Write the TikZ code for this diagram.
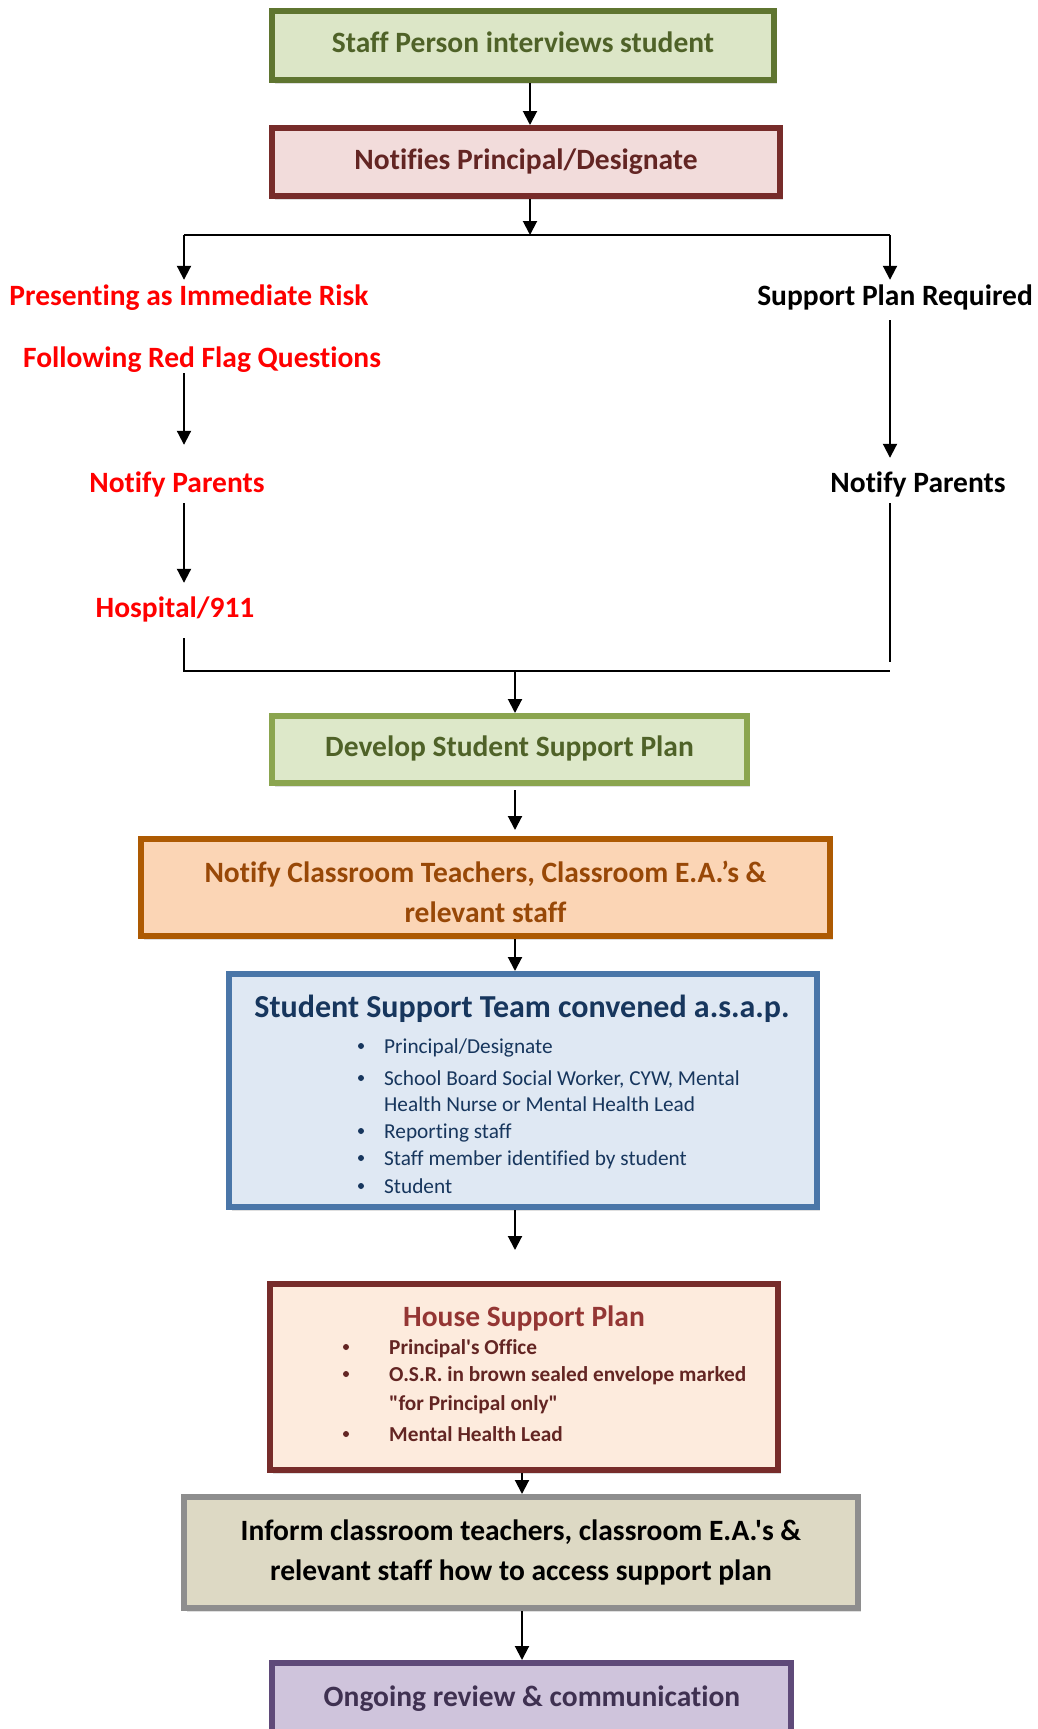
\documentclass[tikz,border=0pt]{standalone}
\usepackage{fontspec}
\setmainfont{Carlito}[Ligatures={TeXOff,NoCommon}]
\usetikzlibrary{arrows.meta,shadows,calc}
\definecolor{staffFill}{HTML}{DCE6C7}
\definecolor{staffLine}{HTML}{5F7530}
\definecolor{greenT}{HTML}{4F6228}
\definecolor{notifFill}{HTML}{F2DCDB}
\definecolor{wineLine}{HTML}{772C2A}
\definecolor{wineT}{HTML}{632523}
\definecolor{devFill}{HTML}{DDE8C9}
\definecolor{devLine}{HTML}{8BA54F}
\definecolor{ncFill}{HTML}{FBD5B5}
\definecolor{ncLine}{HTML}{AD5A02}
\definecolor{ncT}{HTML}{984807}
\definecolor{sstFill}{HTML}{DFE8F3}
\definecolor{sstLine}{HTML}{4A76A8}
\definecolor{sstT}{HTML}{17365D}
\definecolor{houseFill}{HTML}{FDEBDD}
\definecolor{houseT}{HTML}{943634}
\definecolor{infFill}{HTML}{DDD9C4}
\definecolor{infLine}{HTML}{8E8E8E}
\definecolor{ongFill}{HTML}{CFC4DC}
\definecolor{ongLine}{HTML}{5F4A79}
\definecolor{ongT}{HTML}{3F3151}
\definecolor{redT}{HTML}{FF0000}
\begin{document}
\begin{tikzpicture}[x=1pt,y=-1pt,
  box/.style={draw, line width=6pt, inner sep=0pt, align=center,
    font=\fontsize{29.5}{40}\selectfont\bfseries,
    drop shadow={shadow xshift=3pt, shadow yshift=-4pt, opacity=0.25}},
  lbl/.style={font=\fontsize{29.5}{35}\selectfont\bfseries, inner sep=0pt,
    text height=20pt, text depth=6pt},
  item/.style={font=\fontsize{21.3}{26}\selectfont, inner sep=0pt, anchor=base west},
  bitem/.style={font=\fontsize{21.3}{26}\selectfont\bfseries, inner sep=0pt, anchor=base west},
  ln/.style={line width=2pt},
  arr/.style={line width=2pt, -{Triangle[width=14pt,length=14pt]}}]
\useasboundingbox (0,0) rectangle (1037,1729);
\clip (0,0) rectangle (1037,1729);

% boxes
\node[box, fill=staffFill, draw=staffLine, text=greenT, minimum width=502pt, minimum height=69pt,
  text height=20pt, text depth=6pt] (staff) at (523,45.5) {Staff Person interviews student};
\node[box, fill=notifFill, draw=wineLine, text=wineT, minimum width=508pt, minimum height=68pt,
  text height=20pt, text depth=6pt] (notif) at (526,162) {Notifies Principal/Designate};
\node[box, fill=devFill, draw=devLine, text=greenT, minimum width=475pt, minimum height=67pt,
  text height=20pt, text depth=6pt] (develop) at (509.5,749.5) {Develop Student Support Plan};
\node[box, fill=ncFill, draw=ncLine, text=ncT, minimum width=689pt, minimum height=97pt]
  (nc) at (485.5,887.5) {\rule{0pt}{31pt}Notify Classroom Teachers, Classroom E.A.’s \&\\relevant staff};
\node[box, fill=sstFill, draw=sstLine, minimum width=588pt, minimum height=233pt]
  (sst) at (523,1090.5) {};
\node[box, fill=houseFill, draw=wineLine, minimum width=508pt, minimum height=186pt]
  (house) at (524,1377) {};
\node[box, fill=infFill, draw=infLine, text=black, minimum width=674pt, minimum height=111pt]
  (inform) at (521,1552.5) {Inform classroom teachers, classroom E.A.'s \&\\relevant staff how to access support plan};
\node[box, fill=ongFill, draw=ongLine, minimum width=519pt, minimum height=94pt]
  (ong) at (531.5,1710) {};
\node[lbl, text=ongT, anchor=base] (ongtxt) at (532,1706) {Ongoing review \& communication};

% SST contents
\node[font=\fontsize{32}{38}\selectfont\bfseries, text=sstT, inner sep=0pt, anchor=base] (ssttitle) at (522,1017) {Student Support Team convened a.s.a.p.};
\node[item, text=sstT] (s1) at (384,1053) {Principal/Designate};
\node[item, text=sstT] (s2) at (384,1085) {School Board Social Worker, CYW, Mental};
\node[item, text=sstT] (s2b) at (384,1111) {Health Nurse or Mental Health Lead};
\node[item, text=sstT] (s3) at (384,1138) {Reporting staff};
\node[item, text=sstT] (s4) at (384,1165) {Staff member identified by student};
\node[item, text=sstT] (s5) at (384,1193) {Student};
\foreach \yy in {1046,1078,1131,1158,1186} \fill[sstT] (361,\yy) circle (3pt);

% House contents
\node[lbl, text=houseT, anchor=base] (housetitle) at (524,1326) {House Support Plan};
\node[bitem, text=wineT] (h1) at (389,1354) {Principal's Office};
\node[bitem, text=wineT] (h2) at (389,1381) {O.S.R. in brown sealed envelope marked};
\node[bitem, text=wineT] (h2b) at (389,1410) {"for Principal only"};
\node[bitem, text=wineT] (h3) at (389,1441) {Mental Health Lead};
\foreach \yy in {1347,1374,1434} \fill[wineT] (346,\yy) circle (3pt);

% branch labels
\node[lbl, text=redT, anchor=base] (pres) at (189,305) {Presenting as Immediate Risk};
\node[lbl, text=redT, anchor=base] (follow) at (202,367) {Following Red Flag Questions};
\node[lbl, text=redT, anchor=base] (npL) at (177,492) {Notify Parents};
\node[lbl, text=redT, anchor=base] (hosp) at (175,617) {Hospital/911};
\node[lbl, text=black, anchor=base] (spr) at (895,305) {Support Plan Required};
\node[lbl, text=black, anchor=base] (npR) at (918,492) {Notify Parents};

% coordinates
\coordinate (xa) at (530,0);
\coordinate (xb) at (515,0);
\coordinate (xc) at (522,0);
\coordinate (jL) at (184,235);
\coordinate (jM) at (530,235);
\coordinate (jR) at (890,235);
\coordinate (mL) at (184,671);
\coordinate (mC) at (515,671);
\coordinate (mR) at (890,671);
\coordinate (gR) at (890,662);

% connectors
\draw[arr] (staff.south -| xa) -- (notif.north -| xa);
\draw[arr] (notif.south -| xa) -- (jM);
\draw[ln] (jL) -- (jR);
\draw[arr, shorten >=5pt] (jL) -- (jL |- pres.north);
\draw[arr, shorten >=27pt] (follow.south -| jL) -- (npL.north -| jL);
\draw[arr, shorten <=5pt, shorten >=14pt] (npL.south -| jL) -- (hosp.north -| jL);
\draw[ln, shorten <=15pt] (hosp.south -| jL) -- (mL) -- (mR);
\draw[arr, shorten >=5pt] (jR) -- (jR |- spr.north);
\draw[arr, shorten <=9pt, shorten >=14pt] (spr.south -| jR) -- (npR.north -| jR);
\draw[ln, shorten <=5pt] (npR.south -| jR) -- (gR);
\draw[arr] (mC) -- (develop.north -| mC);
\draw[arr, shorten <=4pt, shorten >=6pt] (develop.south -| xb) -- (nc.north -| xb);
\draw[arr] (nc.south -| xb) -- (sst.north -| xb);
\draw[arr, shorten >=31pt] (sst.south -| xb) -- (house.north -| xb);
\draw[arr] (house.south -| xc) -- (inform.north -| xc);
\draw[arr] (inform.south -| xc) -- (ong.north -| xc);
\end{tikzpicture}
\end{document}
